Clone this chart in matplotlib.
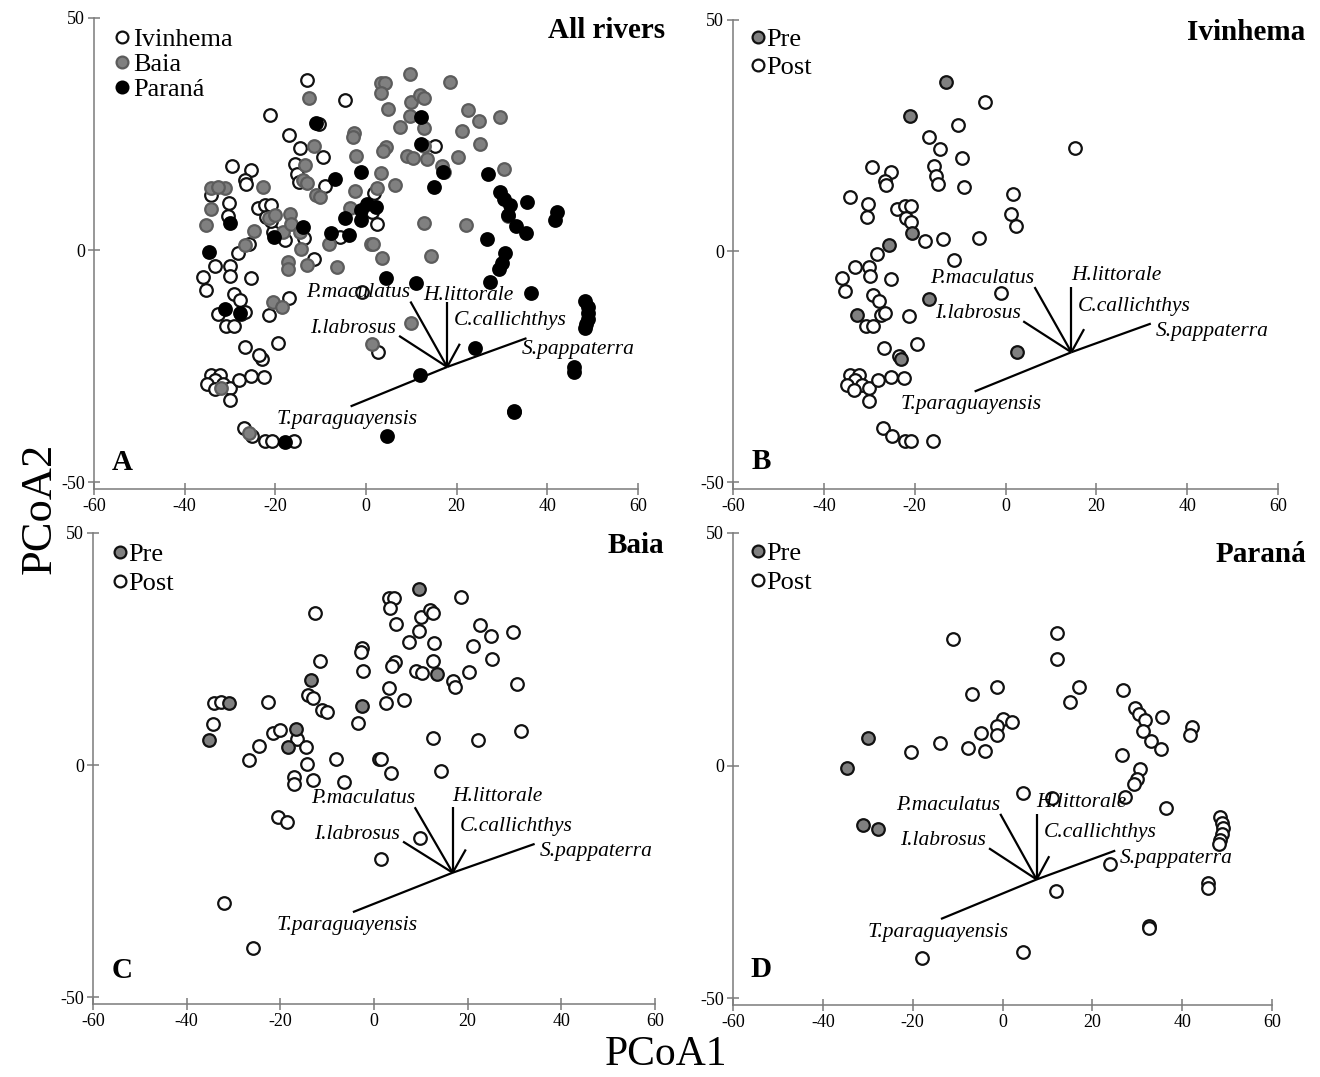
import matplotlib.pyplot as plt

plt.rcParams['font.family'] = ['Liberation Serif', 'DejaVu Serif']
plt.rcParams['axes.unicode_minus'] = False

# ---- Ivinhema scores (PCoA1, PCoA2) ----
ivi_pre_x = [-13.0, -21.1, -20.6, -25.7, -16.9, -32.6, 2.6, -22.9]
ivi_pre_y = [36.6, 29.2, 3.9, 1.2, -10.3, -13.8, -21.9, -23.4]
ivi_post_x = [-4.6, -10.4, -16.9, -14.5, -9.5, -15.7, -15.3, -14.8, -9.1, -29.5, -25.3, -26.6, -26.4,
              -34.3, -30.2, -30.5, -23.9, -22.2, -20.9, -22.0, -20.9, -17.8, -13.7, -5.8, 1.7, 1.3,
              2.4, -28.3, -11.4, 15.2, -0.9, -33.2, -30.0, -35.9, -29.9, -25.3, -35.4, -29.1, -27.9,
              -27.5, -26.6, -30.8, -29.1, -21.3, -26.7, -23.5, -19.4, -34.3, -32.2, -33.2, -35.0,
              -31.6, -33.3, -30.1, -28.0, -25.3, -22.4, -30.0, -26.9, -25.1, -22.2, -20.7, -15.9]
ivi_post_y = [32.3, 27.2, 24.7, 22.0, 20.1, 18.5, 16.3, 14.6, 13.8, 18.1, 17.2, 15.1, 14.3,
              11.8, 10.2, 7.4, 9.0, 9.7, 9.7, 7.2, 6.3, 2.2, 2.5, 2.9, 12.3, 8.1,
              5.5, -0.6, -2.0, 22.4, -9.0, -3.4, -3.4, -5.9, -5.5, -6.1, -8.7, -9.5, -10.8,
              -13.8, -13.4, -16.3, -16.3, -14.1, -21.0, -22.7, -20.1, -26.9, -26.9, -28.0, -28.9,
              -28.9, -30.0, -29.7, -28.0, -27.2, -27.4, -32.4, -38.4, -40.0, -41.1, -41.1, -41.2]

# ---- Baia scores ----
baia_pre_x = [9.6, -13.5, -31.0, -2.5, -35.3, -16.7, -18.4, 13.4]
baia_pre_y = [37.9, 18.3, 13.3, 12.7, 5.4, 7.7, 3.8, 19.6]
baia_post_x = [-12.6, -2.6, -2.8, -11.5, -2.3, -14.0, -13.0, -11.0, -10.1, -34.2, -32.7, -22.7, -3.5,
               -34.3, -21.5, -20.1, -16.5, -14.5, -24.6, -26.7, -14.4, -8.2, 1.1,
               3.2, 4.3, 3.4, 18.5, 4.8, 10.0, 12.0, 12.7, 9.6, 7.5, 12.9, 22.6, 24.9, 29.6, 21.2,
               25.2, 12.7, 4.5, 3.8, 9.0, 10.3, 16.8, 17.3, 20.3, 30.5, 3.2, 2.5, 6.4, 12.7, 22.1,
               31.4, 1.6, 14.3, 3.6, -17.1, -17.1, -13.1, -6.5, -20.5, -18.5, 9.9, 1.4, -32.0, -25.9]
baia_post_y = [32.7, 25.3, 24.4, 22.4, 20.3, 15.1, 14.4, 11.9, 11.5, 13.4, 13.6, 13.6, 9.1,
               8.8, 6.8, 7.5, 5.5, 3.8, 4.2, 1.1, 0.2, 1.4, 1.4,
               36.1, 36.1, 33.8, 36.3, 30.4, 31.8, 33.3, 32.8, 28.9, 26.6, 26.4, 30.2, 27.8, 28.7, 25.7,
               22.8, 22.5, 22.1, 21.4, 20.3, 19.9, 18.0, 16.9, 20.0, 17.5, 16.7, 13.3, 14.0, 5.8, 5.4,
               7.4, 1.3, -1.2, -1.8, -2.5, -4.0, -3.2, -3.7, -11.3, -12.3, -15.8, -20.3, -29.8, -39.4]

# ---- Paraná scores ----
par_pre_x = [-34.6, -30.0, -31.0, -27.8]
par_pre_y = [-0.5, 5.9, -12.8, -13.6]
par_post_x = [-11.0, -6.9, -1.2, 0.2, 2.2, -1.2, -4.7, -1.2, -7.7, -3.8, -14.0, -20.3,
              12.2, 12.2, 17.0, 15.1, 26.9, 29.5, 30.4, 31.7, 31.3, 35.6, 33.1, 35.2, 42.2, 41.7,
              26.7, 30.6, 30.0, 29.3, 27.3, 36.3, 4.5, 11.0,
              48.4, 48.9, 49.0, 48.9, 48.5, 48.2, 45.8, 45.8, 24.0, 12.0, 32.6, 32.6, 4.6, -17.9]
par_post_y = [27.3, 15.3, 16.9, 9.9, 9.3, 8.6, 7.0, 6.5, 3.7, 3.2, 4.9, 2.9,
              28.6, 22.8, 16.9, 13.6, 16.3, 12.4, 11.1, 9.7, 7.5, 10.4, 5.2, 3.6, 8.3, 6.5,
              2.3, -0.7, -2.8, -4.0, -6.8, -9.2, -6.0, -7.0,
              -11.0, -12.3, -13.5, -14.8, -16.0, -16.8, -25.3, -26.3, -21.2, -27.0, -34.6, -34.9, -40.1, -41.3]

# ---- species vectors (offsets from biplot origin) ----
species = ['P.maculatus', 'H.littorale', 'I.labrosus', 'C.callichthys', 'S.pappaterra', 'T.paraguayensis']
vec_dx = [-8.1, 0.0, -10.6, 2.8, 17.5, -21.3]
vec_dy = [14.1, 14.1, 6.7, 5.0, 6.2, -8.5]

GRAY = '#808080'
SPINE = '#7a7a7a'

fig = plt.figure(figsize=(13.2, 10.77), dpi=100)
W, H = 1320, 1077


def make_axes(left, right, top, bottom):
    return fig.add_axes([left / W, 1 - bottom / H, (right - left) / W, (bottom - top) / H])


axA = make_axes(94, 638, 18, 489)
axB = make_axes(733, 1278, 20, 489)
axC = make_axes(93, 655, 533, 1004)
axD = make_axes(733, 1272, 533, 1005)


def style(ax):
    ax.set_xlim(-60, 60)
    ax.set_ylim(-51.5, 50)
    ax.set_xticks([-60, -40, -20, 0, 20, 40, 60])
    ax.set_yticks([-50, 0, 50])
    for s in ['top', 'right']:
        ax.spines[s].set_visible(False)
    for s in ['left', 'bottom']:
        ax.spines[s].set_color(SPINE)
        ax.spines[s].set_linewidth(1.1)
    ax.tick_params(direction='inout', length=9, width=1.1, color=SPINE,
                   labelsize=13, pad=2)
    ax.patch.set_alpha(0)


label_off = {
    'P.maculatus': (-8.1, 16.0, 'right'),
    'H.littorale': (0.0, 16.5, 'left'),
    'I.labrosus': (-11.2, 8.3, 'right'),
    'C.callichthys': (1.5, 10.0, 'left'),
    'S.pappaterra': (18.6, 4.5, 'left'),
    'T.paraguayensis': (-37.6, -11.4, 'left'),
}


def vectors(ax, ox, oy, override=None):
    for dx, dy in zip(vec_dx, vec_dy):
        ax.plot([ox, ox + dx], [oy, oy + dy], color='black', lw=1.6, zorder=5,
                solid_capstyle='butt')
    for name in species:
        lx, ly, ha = label_off[name]
        if override and name in override:
            lx, ly = override[name]
        ax.text(ox + lx, oy + ly, name, ha=ha, va='center', fontsize=15.5,
                style='italic', zorder=6)


def pts(ax, x, y, fc, ec='#111111'):
    ax.scatter(x, y, s=82, facecolors=fc, edgecolors=ec, linewidths=1.6, zorder=3)


def corner(ax, title, letter, tx, ty, ly):
    ax.text(tx, ty, title, ha='right', va='center', fontsize=21, fontweight='bold',
            clip_on=False)
    ax.text(-53.7, ly, letter, ha='center', va='center', fontsize=21, fontweight='bold')


def legend(ax, handles, labels, anchor, spacing, pad):
    ax.legend(handles, labels, loc='upper left', bbox_to_anchor=anchor,
              frameon=False, fontsize=19, handlelength=0.6, handletextpad=pad,
              borderpad=0.0, borderaxespad=0.0, labelspacing=spacing)


for ax in (axA, axB, axC, axD):
    style(ax)

# A: all rivers
pts(axA, ivi_pre_x + ivi_post_x, ivi_pre_y + ivi_post_y, 'white')
pts(axA, baia_pre_x + baia_post_x, baia_pre_y + baia_post_y, GRAY, '#5c5c5c')
pts(axA, par_pre_x + par_post_x, par_pre_y + par_post_y, 'black', 'black')
vectors(axA, 17.9, -25.2, {'H.littorale': (-5.3, 15.5), 'S.pappaterra': (16.4, 3.7)})
corner(axA, 'All rivers', 'A', 66.0, 47.3, -45.8)
hA = [plt.Line2D([], [], ls='', marker='o', ms=8.5, mfc=c, mec=e, mew=1.6)
      for c, e in [('white', '#111111'), (GRAY, '#5c5c5c'), ('black', 'black')]]
legend(axA, hA, ['Ivinhema', 'Baia', 'Paraná'], (0.037, 0.979), 0.05, 0.12)

hPP = [plt.Line2D([], [], ls='', marker='o', ms=8.5, mfc=c, mec='#111111', mew=1.6)
       for c in (GRAY, 'white')]

# B: Ivinhema
pts(axB, ivi_post_x, ivi_post_y, 'white')
pts(axB, ivi_pre_x, ivi_pre_y, GRAY)
vectors(axB, 14.5, -21.9)
corner(axB, 'Ivinhema', 'B', 66.1, 47.3, -45.6)
legend(axB, hPP, ['Pre', 'Post'], (0.031, 0.984), 0.18, 0.02)

# C: Baia
pts(axC, baia_post_x, baia_post_y, 'white')
pts(axC, baia_pre_x, baia_pre_y, GRAY)
vectors(axC, 16.8, -23.2)
corner(axC, 'Baia', 'C', 62.0, 47.4, -44.2)
legend(axC, hPP, ['Pre', 'Post'], (0.034, 0.979), 0.21, 0.02)

# D: Paraná
pts(axD, par_post_x, par_post_y, 'white')
pts(axD, par_pre_x, par_pre_y, GRAY)
vectors(axD, 7.6, -24.5)
corner(axD, 'Paraná', 'D', 67.7, 45.3, -43.8)
legend(axD, hPP, ['Pre', 'Post'], (0.0315, 0.981), 0.2, 0.02)

fig.text(40 / W, 1 - 508 / H, 'PCoA2', rotation=90, ha='center', va='center', fontsize=32)
fig.text(666 / W, 1 - 1055 / H, 'PCoA1', ha='center', va='center', fontsize=30)

fig.savefig('out.png', dpi=100)
